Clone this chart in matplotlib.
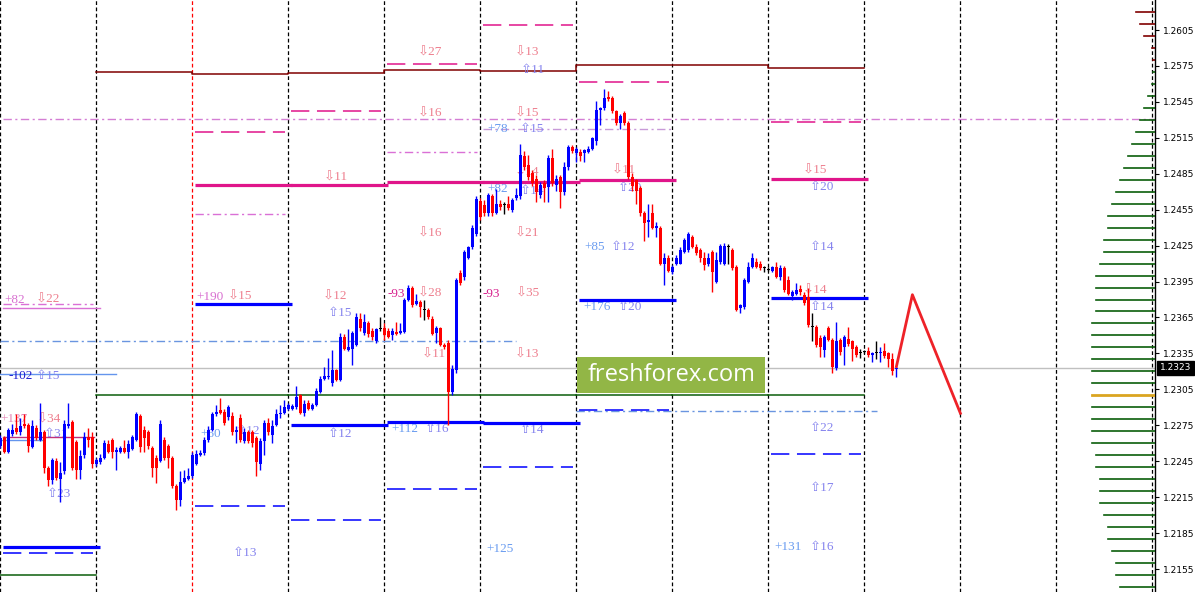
import matplotlib
matplotlib.use('Agg')
import matplotlib.pyplot as plt
import matplotlib.transforms as mtransforms
from matplotlib.patches import Rectangle
import numpy as np

# hourly candles, prices in pips (12263 -> 1.2263), 24 bars per day
opens = [
    12258, 12264, 12253, 12268, 12273, 12269, 12276, 12275, 12257, 12273, 12263, 12269, 12239, 12229, 12245, 12230, 12237, 12274, 12278, 12261, 12238, 12250, 12265, 12265,
    12243, 12244, 12248, 12259, 12263, 12253, 12253, 12256, 12253, 12255, 12263, 12283, 12271, 12269, 12256, 12248, 12245, 12263, 12258, 12248, 12224, 12213, 12228, 12230,
    12233, 12243, 12250, 12252, 12263, 12271, 12284, 12288, 12286, 12282, 12283, 12269, 12281, 12262, 12269, 12269, 12264, 12243, 12262, 12277, 12267, 12275, 12284, 12285,
    12289, 12289, 12290, 12300, 12285, 12294, 12289, 12292, 12303, 12314, 12315, 12310, 12321, 12313, 12349, 12338, 12339, 12342, 12364, 12352, 12360, 12354, 12345, 12355,
    12356, 12354, 12350, 12353, 12352, 12353, 12380, 12390, 12376, 12378, 12371, 12371, 12364, 12352, 12356, 12342, 12344, 12303, 12321, 12402, 12399, 12415, 12424, 12435,
    12462, 12459, 12452, 12466, 12452, 12460, 12459, 12460, 12455, 12465, 12466, 12500, 12492, 12486, 12481, 12467, 12477, 12474, 12498, 12476, 12482, 12470, 12491, 12507,
    12502, 12503, 12502, 12503, 12506, 12512, 12538, 12540, 12549, 12548, 12537, 12527, 12536, 12527, 12482, 12480, 12473, 12452, 12445, 12452, 12440, 12440, 12410, 12415,
    12403, 12410, 12410, 12420, 12421, 12432, 12424, 12421, 12415, 12410, 12420, 12395, 12411, 12410, 12424, 12421, 12407, 12373, 12374, 12395, 12407, 12411, 12410, 12406,
    12405, 12404, 12407, 12399, 12406, 12396, 12383, 12385, 12389, 12384, 12382, 12357, 12357, 12348, 12338, 12356, 12346, 12323, 12346, 12340, 12347, 12345, 12340, 12335,
    12336, 12337, 12334, 12335, 12335, 12337, 12335, 12330, 12322,
]
highs = [
    12267, 12266, 12273, 12276, 12284, 12281, 12284, 12277, 12279, 12275, 12294, 12271, 12241, 12248, 12248, 12244, 12279, 12294, 12279, 12263, 12254, 12269, 12273, 12269,
    12248, 12251, 12263, 12263, 12264, 12257, 12258, 12263, 12263, 12267, 12286, 12284, 12274, 12271, 12258, 12250, 12279, 12265, 12259, 12249, 12226, 12237, 12238, 12239,
    12253, 12254, 12254, 12265, 12274, 12286, 12292, 12298, 12289, 12292, 12286, 12274, 12284, 12273, 12271, 12271, 12266, 12264, 12279, 12281, 12279, 12289, 12292, 12296,
    12294, 12293, 12308, 12301, 12296, 12296, 12294, 12306, 12316, 12324, 12331, 12338, 12322, 12352, 12351, 12355, 12354, 12369, 12369, 12368, 12362, 12356, 12356, 12365,
    12360, 12356, 12356, 12361, 12360, 12381, 12392, 12391, 12385, 12380, 12380, 12373, 12366, 12358, 12357, 12344, 12346, 12325, 12398, 12405, 12421, 12425, 12442, 12466,
    12465, 12463, 12469, 12468, 12472, 12463, 12461, 12466, 12465, 12473, 12510, 12504, 12501, 12488, 12484, 12478, 12480, 12501, 12506, 12484, 12484, 12495, 12509, 12509,
    12507, 12506, 12506, 12508, 12516, 12546, 12541, 12556, 12554, 12550, 12538, 12535, 12537, 12529, 12486, 12481, 12475, 12454, 12460, 12460, 12445, 12441, 12419, 12417,
    12409, 12417, 12424, 12431, 12436, 12434, 12426, 12423, 12420, 12419, 12421, 12420, 12426, 12427, 12426, 12423, 12409, 12376, 12398, 12411, 12419, 12415, 12412, 12408,
    12407, 12408, 12411, 12409, 12408, 12400, 12388, 12394, 12392, 12386, 12390, 12369, 12359, 12350, 12350, 12358, 12348, 12361, 12348, 12350, 12357, 12346, 12342, 12339,
    12338, 12340, 12336, 12345, 12340, 12344, 12336, 12335, 12324,
]
lows = [
    12256, 12252, 12252, 12266, 12268, 12267, 12273, 12253, 12256, 12263, 12262, 12235, 12224, 12226, 12229, 12211, 12234, 12273, 12238, 12230, 12230, 12248, 12257, 12239,
    12241, 12243, 12247, 12252, 12248, 12238, 12252, 12252, 12248, 12254, 12262, 12253, 12253, 12255, 12232, 12227, 12244, 12246, 12239, 12223, 12204, 12208, 12227, 12229,
    12231, 12242, 12249, 12250, 12261, 12270, 12283, 12284, 12275, 12279, 12267, 12260, 12261, 12260, 12260, 12257, 12233, 12238, 12250, 12267, 12260, 12274, 12281, 12284,
    12288, 12288, 12289, 12284, 12283, 12288, 12288, 12291, 12302, 12313, 12314, 12308, 12312, 12312, 12338, 12337, 12325, 12341, 12354, 12350, 12349, 12346, 12344, 12354,
    12346, 12348, 12346, 12350, 12351, 12352, 12379, 12374, 12375, 12365, 12363, 12364, 12350, 12344, 12341, 12339, 12275, 12300, 12319, 12392, 12396, 12414, 12422, 12433,
    12446, 12450, 12450, 12450, 12451, 12455, 12451, 12455, 12453, 12463, 12464, 12488, 12480, 12475, 12461, 12465, 12461, 12461, 12475, 12471, 12456, 12467, 12488, 12502,
    12495, 12496, 12495, 12502, 12505, 12509, 12526, 12538, 12546, 12536, 12526, 12522, 12526, 12481, 12471, 12460, 12450, 12429, 12432, 12439, 12432, 12409, 12392, 12403,
    12401, 12409, 12410, 12419, 12420, 12423, 12417, 12411, 12405, 12408, 12386, 12394, 12410, 12409, 12410, 12405, 12370, 12369, 12372, 12394, 12406, 12406, 12405, 12403,
    12404, 12403, 12398, 12396, 12386, 12384, 12380, 12384, 12384, 12375, 12357, 12345, 12340, 12332, 12332, 12345, 12319, 12321, 12334, 12325, 12341, 12329, 12332, 12331,
    12335, 12332, 12328, 12330, 12328, 12331, 12324, 12317, 12315,
]
closes = [
    12264, 12253, 12271, 12271, 12269, 12274, 12274, 12258, 12274, 12264, 12269, 12239, 12229, 12246, 12231, 12235, 12276, 12276, 12239, 12238, 12249, 12265, 12263, 12243,
    12246, 12248, 12260, 12253, 12253, 12254, 12256, 12253, 12259, 12265, 12284, 12257, 12264, 12258, 12239, 12239, 12276, 12248, 12248, 12224, 12213, 12228, 12231, 12233,
    12250, 12251, 12252, 12263, 12271, 12284, 12286, 12285, 12277, 12290, 12269, 12271, 12263, 12269, 12262, 12260, 12244, 12262, 12277, 12269, 12274, 12284, 12285, 12290,
    12292, 12291, 12299, 12285, 12293, 12289, 12292, 12304, 12314, 12316, 12316, 12321, 12313, 12349, 12339, 12340, 12352, 12365, 12356, 12361, 12351, 12349, 12355, 12355,
    12350, 12349, 12354, 12351, 12354, 12380, 12390, 12375, 12379, 12374, 12371, 12365, 12351, 12356, 12342, 12340, 12303, 12322, 12396, 12394, 12420, 12424, 12440, 12464,
    12449, 12452, 12467, 12452, 12460, 12457, 12459, 12456, 12463, 12467, 12501, 12491, 12482, 12477, 12470, 12476, 12473, 12498, 12477, 12481, 12470, 12491, 12507, 12504,
    12506, 12500, 12505, 12506, 12515, 12538, 12540, 12548, 12547, 12537, 12527, 12533, 12527, 12482, 12475, 12471, 12452, 12444, 12446, 12440, 12441, 12410, 12415, 12404,
    12407, 12415, 12421, 12430, 12435, 12424, 12419, 12415, 12409, 12415, 12403, 12413, 12425, 12425, 12424, 12406, 12371, 12375, 12396, 12407, 12415, 12407, 12406, 12406,
    12405, 12407, 12399, 12406, 12388, 12385, 12386, 12388, 12386, 12377, 12359, 12357, 12342, 12340, 12349, 12346, 12324, 12345, 12336, 12349, 12343, 12339, 12334, 12335,
    12336, 12334, 12335, 12335, 12336, 12333, 12330, 12320, 12323,
]

# daily levels: (day, price in pips)
week_high = [(1, 12570), (2, 12568), (3, 12569), (4, 12572), (5, 12571), (6, 12576), (7, 12576), (8, 12573)]
week_low = [(0, 12150), (1, 12300), (2, 12300), (3, 12300), (4, 12300), (5, 12300), (6, 12300), (7, 12300), (8, 12300)]
pink_solid = [(2, 12476), (3, 12476), (4, 12478), (5, 12478), (6, 12480), (8, 12481)]
pink_dash = [(2, 12520), (3, 12537), (4, 12577), (5, 12609), (6, 12562), (8, 12528)]
orchid_dashdot = [(0, 12376), (2, 12451), (4, 12503)]
blue_solid = [(0, 12173), (2, 12376), (3, 12275), (4, 12278), (5, 12277), (6, 12380), (8, 12381)]
blue_dash = [(0, 12168), (2, 12208), (3, 12196), (4, 12222), (5, 12240), (6, 12288), (8, 12251)]

# forecast zigzag
fc_x = [224, 228, 240]
fc_y = [12324, 12384, 12285]

# volume profile (levels in pips, length in px)
vp_levels = [12620, 12610, 12600, 12590, 12580, 12570, 12560, 12550, 12540, 12530,
             12520, 12510, 12500, 12490, 12480, 12470, 12460, 12450, 12440, 12430,
             12420, 12410, 12400, 12390, 12380, 12370, 12360, 12350, 12340, 12330,
             12320, 12310, 12300, 12290, 12280, 12270, 12260, 12250, 12240, 12230,
             12220, 12210, 12200, 12190, 12180, 12170, 12160, 12150, 12140]
vp_len = [19, 15, 11, 3, 2, 2, 3, 7, 11, 15, 19, 23, 27, 31, 35, 39, 43, 47, 47, 51,
          51, 55, 59, 59, 59, 59, 63, 63, 63, 63, 63, 63, 63, 63, 63, 63, 63, 59, 59, 55,
          55, 55, 51, 47, 47, 43, 39, 39, 35]
vp_poc = 12300

# text labels: (bar, price pips, text, kind)
labels = [
    (107.5, 12586, '⇩27', 'dn'), (131.75, 12586, '⇩13', 'dn'), (133, 12572, '⇧11', 'up'),
    (107.5, 12535, '⇩16', 'dn'), (131.75, 12535, '⇩15', 'dn'),
    (124.25, 12522, '+78', 'plus'), (133, 12522, '⇧15', 'up'),
    (83.75, 12482, '⇩11', 'dn'), (124.25, 12472, '+82', 'plus'),
    (131.75, 12486, '⇩14', 'dn'), (133, 12471, '⇧14', 'up'),
    (155.75, 12488, '⇩11', 'dn'), (157.5, 12473, '⇧20', 'up'),
    (107.5, 12435, '⇩16', 'dn'), (131.75, 12435, '⇩21', 'dn'),
    (148.5, 12424, '+85', 'plus'), (155.75, 12424, '⇧12', 'up'),
    (203.75, 12488, '⇩15', 'dn'), (205.5, 12474, '⇧20', 'up'),
    (205.5, 12424, '⇧14', 'up'),
    (203.75, 12387, '⇩14', 'dn'), (205.5, 12374, '⇧14', 'up'),
    (149.25, 12374, '+176', 'plus'), (157.5, 12374, '⇧20', 'up'),
    (3.5, 12380, '+82', 'orc'), (12, 12380, '⇩22', 'dn'),
    (52.5, 12382, '+190', 'orc'), (60, 12382, '⇩15', 'dn'),
    (83.75, 12382, '⇩12', 'dn'), (85, 12369, '⇧15', 'up'),
    (99, 12385, '-93', 'neg'), (107.5, 12385, '⇩28', 'dn'),
    (122.75, 12385, '-93', 'neg'), (131.75, 12385, '⇩35', 'dn'),
    (108.25, 12334, '⇩11', 'dn'), (131.75, 12334, '⇩13', 'dn'),
    (5, 12316, '-102', 'dblue'), (12, 12316, '⇧15', 'up'),
    (3.5, 12280, '+137', 'pk'), (12, 12280, '⇩34', 'dn'),
    (14, 12268, '⇧31', 'up'),
    (52.5, 12268, '+60', 'plus'), (62, 12270, '⇧12', 'up'),
    (14.5, 12218, '⇧23', 'up'),
    (85, 12268, '⇧12', 'up'),
    (101, 12272, '+112', 'plus'), (109.25, 12272, '⇧16', 'up'),
    (133, 12271, '⇧14', 'up'),
    (205.5, 12273, '⇧22', 'up'), (205.5, 12223, '⇧17', 'up'),
    (125, 12172, '+125', 'plus'), (61.25, 12168, '⇧13', 'up'),
    (197, 12173, '+131', 'plus'), (205.5, 12173, '⇧16', 'up'),
]
label_colors = {'dn': '#EE7F8E', 'up': '#8583EE', 'plus': '#6A9CF0', 'neg': '#D61F8C',
                'dblue': '#1F1FD0', 'orc': '#D86FD0', 'pk': '#E58AB8'}

P = 1e-4
o = np.array(opens) * P
h = np.array(highs) * P
l = np.array(lows) * P
c = np.array(closes) * P
x = np.arange(len(o))

fig = plt.figure(figsize=(11.95, 5.92), dpi=100)
ax = fig.add_axes([0, 0, 1155 / 1195, 1])
ax.set_xlim(-0.1, 288.65)
ax.set_ylim(12135.8 * P, 12630.05 * P)

# day separators
for d in range(13):
    ax.axvline(d * 24, color='red' if d == 2 else 'black', lw=0.9, dashes=(3, 2), zorder=1)

def seg(day, y, a=0.75, b=-0.75, **kw):
    ax.plot([day * 24 + a, (day + 1) * 24 + b], [y * P, y * P], **kw)

# long lines
ax.plot([0.75, 288.65], [12531 * P] * 2, color='#D47ED4', lw=1, dashes=(6, 2.5, 1.5, 2.5), zorder=2)
ax.plot([120.75, 168], [12522 * P] * 2, color='#C89AD8', lw=1, dashes=(6, 2.5, 1.5, 2.5), zorder=2)
ax.plot([0, 129], [12345 * P] * 2, color='#6A95E0', lw=1, dashes=(6, 2.5, 1.5, 2.5), zorder=2)
ax.plot([144, 219.25], [12287 * P] * 2, color='#6A95E0', lw=1, dashes=(6, 2.5, 1.5, 2.5), zorder=2)
ax.axhline(c[-1], color='#C0C0C0', lw=1, zorder=1.5)

# day 0 extras
ax.plot([0.75, 25], [12373 * P] * 2, color='#DA70D6', lw=1, zorder=2)
ax.plot([0.75, 23.5], [12265 * P] * 2, color='#C0307A', lw=1, zorder=2)
ax.plot([0, 10.75], [12263 * P] * 2, color='#6495ED', lw=1, zorder=2)
ax.plot([0, 29], [12318 * P] * 2, color='#6495ED', lw=1, zorder=2)

# weekly high as a step line, weekly low as plain segments
xs, ys = [], []
for d, y in week_high:
    xs += [d * 24, (d + 1) * 24]
    ys += [y * P, y * P]
ax.plot(xs, ys, color='#800000', lw=1.1, zorder=2)
for d, y in week_low:
    seg(d, y, a=0, b=0, color='#0B5E0B', lw=1.1, zorder=2)

for d, y in pink_dash:
    seg(d, y, color='#E0158A', lw=1.1, dashes=(12, 5), zorder=2)
for d, y in orchid_dashdot:
    seg(d, y, color='#DA70D6', lw=1, dashes=(6, 2.5, 1.5, 2.5), zorder=2)
for d, y in blue_dash:
    seg(d, y, color='#0000FF', lw=1.1, dashes=(12, 5), zorder=2)
for d, y in pink_solid:
    seg(d, y, b=1.0, color='#E0158A', lw=2.3, zorder=2.5, solid_capstyle='butt')
for d, y in blue_solid:
    seg(d, y, b=1.0, color='#0000FF', lw=2.3, zorder=2.5, solid_capstyle='butt')

# labels
for bx, by, s, k in labels:
    ax.text(bx, by * P, s, ha='center', va='center', fontsize=9.5, color=label_colors[k],
            family=['Liberation Serif', 'DejaVu Sans'], zorder=2.2)

# candles
cols = np.where(c > o, '#0000FF', np.where(c < o, '#FF0000', '#000000'))
ax.vlines(x, l, h, colors=cols, lw=1, zorder=3)
body = np.maximum(np.abs(c - o), 0.8 * P)
ax.bar(x, body, bottom=np.minimum(o, c), width=0.72, color=cols, linewidth=0, zorder=3.2)

# forecast
ax.plot(fc_x, np.array(fc_y) * P, color='#EE2228', lw=2, zorder=4)

# volume profile
xr = 288.65
for lv, ln in zip(vp_levels, vp_len):
    if lv == vp_poc:
        ax.plot([xr - ln / 4, xr], [lv * P] * 2, color='#DAA520', lw=2, zorder=3)
    else:
        ax.plot([xr - ln / 4, xr], [lv * P] * 2, color='#800000' if lv >= 12580 else '#0B5E0B',
                lw=1.2, zorder=3)

# watermark
ax.add_patch(Rectangle((144.25, 12302 * P), 47, 30 * P, facecolor='#92B646', edgecolor='none', zorder=6))
ax.text(167.75, 12317 * P, 'freshforex.com', ha='center', va='center', color='white',
        fontsize=17, family='Open Sans', zorder=7)

# right price axis
ticks = [12155, 12185, 12215, 12245, 12275, 12305, 12335, 12365, 12395, 12425,
         12455, 12485, 12515, 12545, 12575, 12605]
ax.yaxis.tick_right()
ax.set_yticks(np.array(ticks) * P)
ax.set_yticklabels(['%.4f' % (t * P) for t in ticks])
ax.tick_params(axis='y', direction='out', length=3, width=0.8, labelsize=6.5, pad=3, colors='black')
ax.set_xticks([])
for sp in ['top', 'bottom', 'left']:
    ax.spines[sp].set_visible(False)
ax.spines['right'].set_linewidth(1)

tr = mtransforms.blended_transform_factory(ax.transAxes, ax.transData)
ax.text(1.004, c[-1], '%.4f' % c[-1], transform=tr, ha='left', va='center', fontsize=6.5,
        color='white', bbox=dict(facecolor='black', edgecolor='black', boxstyle='square,pad=0.3'), zorder=8)

fig.savefig('out.png', dpi=100)
